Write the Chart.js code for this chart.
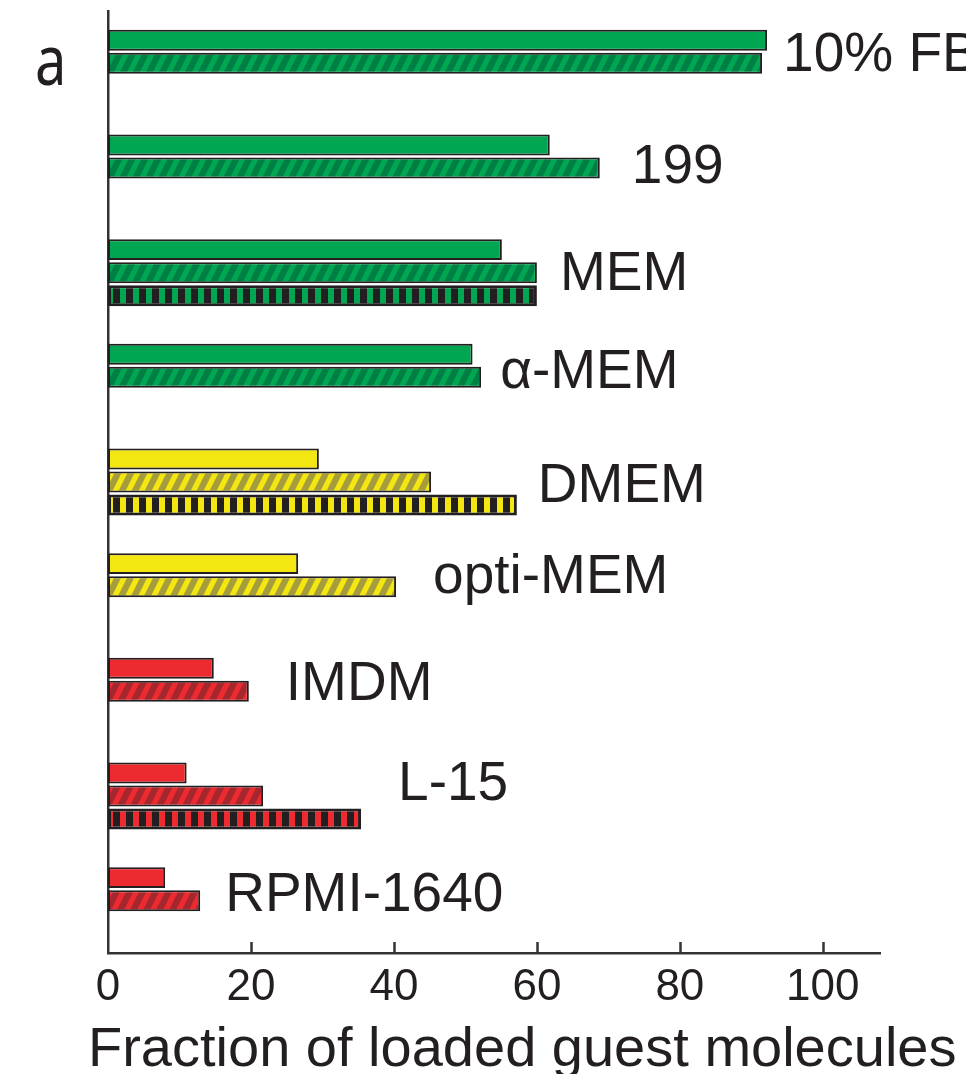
<!DOCTYPE html>
<html>
<head>
<meta charset="utf-8">
<script src="https://cdn.jsdelivr.net/npm/chart.js@4.4.1/dist/chart.umd.min.js"></script>
<style>
body { margin: 0; background: #fff; }
canvas { display: block; }
</style>
</head>
<body>
<canvas id="chart" width="966" height="1074"></canvas>
<script>
// values (fraction of loaded guest molecules, %)
const media = ['10% FBS', '199', 'MEM', '\u03b1-MEM', 'DMEM', 'opti-MEM', 'IMDM', 'L-15', 'RPMI-1640'];
const mediaGroup = ['green', 'green', 'green', 'green', 'yellow', 'yellow', 'red', 'red', 'red'];
const solidValues = [92.2, 61.8, 55.1, 51.0, 29.5, 26.6, 14.8, 11.0, 8.0];
const hatchedValues = [91.5, 68.8, 60.0, 52.2, 45.2, 40.3, 19.7, 21.7, 12.9];
const stripedValues = [null, null, 60.0, null, 57.2, null, null, 35.4, null];
const xTicks = [0, 20, 40, 60, 80, 100];
const xMax = 108;
const xTitle = 'Fraction of loaded guest molecules';
const panelLetter = 'a';

const ink = '#231f20';
const fills = { green: '#00a651', yellow: '#f4e610', red: '#ed2a30' };
const hatchInk = { green: '#007f45', yellow: '#a59c3c', red: '#a3272d' };
const font = '"Liberation Sans", Arial, Helvetica, sans-serif';

const canvas = document.getElementById('chart');
const ctx = canvas.getContext('2d');

// diagonal "/" hatch
function diagonal(base, dark) {
    const c = document.createElement('canvas');
    c.width = 13; c.height = 26;
    const g = c.getContext('2d');
    g.fillStyle = base;
    g.fillRect(0, 0, 13, 26);
    g.fillStyle = dark;
    for (const ox of [-13, 0, 13]) {
        g.beginPath();
        g.moveTo(ox, 26);
        g.lineTo(ox + 7, 26);
        g.lineTo(ox + 20, 0);
        g.lineTo(ox + 13, 0);
        g.closePath();
        g.fill();
    }
    return ctx.createPattern(c, 'repeat');
}

// black vertical stripes
function stripes(base) {
    const c = document.createElement('canvas');
    c.width = 13; c.height = 4;
    const g = c.getContext('2d');
    g.fillStyle = ink;
    g.fillRect(0, 0, 13, 4);
    g.fillStyle = base;
    g.fillRect(3, 0, 6, 4);
    return ctx.createPattern(c, 'repeat');
}

const labelGap = [16, 32, 23, 19, 21, 37, 37, 37, 25];
const labelShift = [-8, 0, 2, -5, 5, -9, -7, -11, -5];

const annotate = {
    id: 'annotate',
    afterDraw(chart) {
        const c = chart.ctx;
        const xs = chart.scales.x;
        const ys = chart.scales.y;
        c.save();

        // inward tick marks
        c.strokeStyle = '#333';
        c.lineWidth = 2.5;
        xTicks.forEach(v => {
            if (v === 0) return;
            const px = Math.round(xs.getPixelForValue(v)) + 0.5;
            c.beginPath();
            c.moveTo(px, xs.top);
            c.lineTo(px, xs.top - 11);
            c.stroke();
        });

        // medium names next to their bars
        c.fillStyle = ink;
        c.font = '55px ' + font;
        c.textAlign = 'left';
        c.textBaseline = 'middle';
        media.forEach((name, i) => {
            const end = Math.max(solidValues[i] || 0, hatchedValues[i] || 0, stripedValues[i] || 0);
            const x = xs.getPixelForValue(end) + labelGap[i];
            const y = ys.getPixelForValue(i) + labelShift[i];
            c.fillText(name, x, y);
        });

        // axis title
        c.textBaseline = 'alphabetic';
        c.font = '56px ' + font;
        c.fillText(xTitle, xs.left - 20, chart.height - 8);

        // panel letter
        c.font = '70px "Noto Sans", "Open Sans", sans-serif';
        c.translate(35, 85);
        c.scale(0.8, 1);
        c.fillText(panelLetter, 0, 0);
        c.restore();
    }
};

const common = {
    borderColor: ink,
    borderWidth: 2,
    borderSkipped: false,
    categoryPercentage: 0.66,
    barPercentage: 0.91
};

new Chart(ctx, {
    type: 'bar',
    data: {
        labels: media,
        datasets: [
            Object.assign({ label: 'solid', data: solidValues,
                backgroundColor: mediaGroup.map(g => fills[g]) }, common),
            Object.assign({ label: 'hatched', data: hatchedValues,
                backgroundColor: mediaGroup.map(g => diagonal(fills[g], hatchInk[g])) }, common),
            Object.assign({ label: 'striped', data: stripedValues,
                backgroundColor: mediaGroup.map(g => stripes(fills[g])) }, common, { borderWidth: 3 })
        ]
    },
    options: {
        indexAxis: 'y',
        responsive: false,
        animation: false,
        layout: { padding: { left: 108, right: 86, top: 11, bottom: 0 } },
        plugins: {
            legend: { display: false },
            tooltip: { enabled: false }
        },
        scales: {
            x: {
                type: 'linear',
                position: 'bottom',
                min: 0,
                max: xMax,
                afterBuildTicks: s => { s.ticks = xTicks.map(v => ({ value: v })); },
                afterFit: s => { s.height = 121; },
                grid: { display: false, drawTicks: false },
                border: { display: true, color: '#333', width: 2.5 },
                ticks: {
                    padding: 8,
                    color: ink,
                    maxRotation: 0,
                    font: { family: font, size: 44 }
                }
            },
            y: {
                afterFit: s => { s.width = 0; },
                grid: { display: false, drawTicks: false },
                border: { display: true, color: '#333', width: 2.5 },
                ticks: { display: false }
            }
        }
    },
    plugins: [annotate]
});
</script>
</body>
</html>
